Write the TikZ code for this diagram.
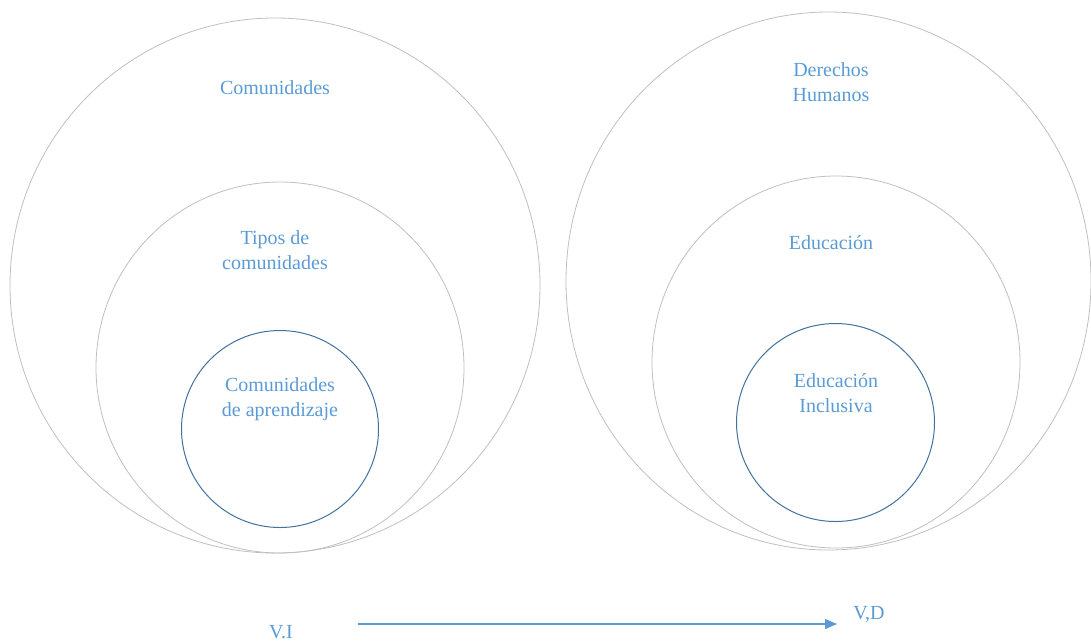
\documentclass[tikz,border=0pt]{standalone}
\usepackage{fontspec}
\setmainfont{Liberation Serif}
\newfontfamily\timesfont{Liberation Serif}
\usetikzlibrary{arrows.meta,shapes.geometric}
\definecolor{txtblue}{RGB}{91,155,213}
\definecolor{ringgray}{RGB}{191,191,191}
\definecolor{darkring}{RGB}{65,113,156}
\tikzset{
  lbl/.style={text=txtblue, font=\timesfont\fontsize{20}{25}\selectfont, align=center, inner sep=0pt},
  outerring/.style={draw=ringgray, line width=0.8pt, ellipse, inner sep=0pt},
  innerring/.style={draw=darkring, line width=1pt, circle, inner sep=0pt},
  flow/.style={draw=txtblue, line width=1.4pt, -{Triangle[length=12pt,width=10pt]}}
}
\begin{document}
\begin{tikzpicture}[x=1pt,y=-1pt]
\useasboundingbox (0,0) rectangle (1091,641);
% left
\node[outerring, minimum width=530pt, minimum height=535pt] (lbig) at (275,285.5) {};
\node[outerring, minimum width=368pt, minimum height=371pt] (lmid) at (280,367.5) {};
\node[innerring, minimum size=197pt] (lsmall) at (280,429) {};
\node[lbl] (tcom) at (275,88) {Comunidades};
\node[lbl] (ttipos) at (275,250) {Tipos de\\comunidades};
\node[lbl] (tapr) at (280,399) {Comunidades\\de aprendizaje};
% right
\node[outerring, minimum width=525pt, minimum height=538pt] (rbig) at (828.5,281) {};
\node[outerring, minimum width=368pt, minimum height=372pt] (rmid) at (836,362) {};
\node[innerring, minimum size=198pt] (rsmall) at (835.5,422.5) {};
\node[lbl] (tder) at (831,82) {Derechos\\Humanos};
\node[lbl] (tedu) at (831,243) {Educación};
\node[lbl] (tinc) at (836,393) {Educación\\Inclusiva};
% arrow
\node[lbl] (vi) at (281,632) {V.I};
\node[lbl] (vd) at (869,614) {V,D};
\coordinate (astart) at (358,624);
\coordinate (aend) at (837,624);
\draw[flow] (astart) -- (aend);
\end{tikzpicture}
\end{document}
